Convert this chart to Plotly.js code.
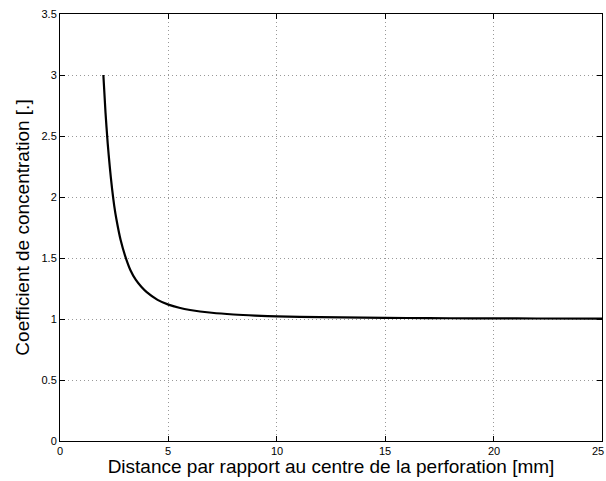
<!DOCTYPE html>
<html>
<head>
<meta charset="utf-8">
<script src="https://cdn.plot.ly/plotly-3.0.1.min.js"></script>
<style>html,body{margin:0;padding:0;background:#fff;overflow:hidden;}#chart{width:606px;height:481px;}</style>
</head>
<body>
<div id="chart"></div>
<script>
// Distance from hole centre [mm]
const distance = [2, 2.1, 2.2, 2.3, 2.4, 2.5, 2.6, 2.8, 3, 3.25, 3.5, 3.75, 4, 4.5, 5, 5.5, 6, 7, 8, 9, 10, 12, 14, 16, 18, 20, 22, 25];
// Stress concentration coefficient [.]
const coefficient = [3.0, 2.69, 2.44, 2.24, 2.07, 1.93, 1.82, 1.645, 1.52, 1.40, 1.32, 1.264, 1.22, 1.157, 1.118, 1.092, 1.074, 1.051, 1.037, 1.028, 1.022, 1.015, 1.011, 1.008, 1.006, 1.005, 1.004, 1.003];
const xTicks = [0, 5, 10, 15, 20, 25];
const xTickText = ['0', '5', '10', '15', '20', '25'];
const yTicks = [0, 0.5, 1, 1.5, 2, 2.5, 3, 3.5];
const yTickText = ['0', '0.5', '1', '1.5', '2', '2.5', '3', '3.5'];
const xTitle = 'Distance par rapport au centre de la perforation [mm]';
const yTitle = 'Coefficient de concentration [.]';

const font = 'Liberation Sans, Arial, Helvetica, sans-serif';
const trace = {
  x: distance, y: coefficient, type: 'scatter', mode: 'lines',
  line: {color: '#000', width: 2.2, shape: 'spline', smoothing: 0.8},
  hoverinfo: 'skip'
};
const axisCommon = {
  showline: true, linecolor: '#000', linewidth: 1, mirror: 'ticks',
  ticks: 'inside', ticklen: 5, tickcolor: '#000', tickwidth: 1,
  showgrid: true, gridcolor: '#999', gridwidth: 1, griddash: '1px,3px',
  zeroline: false, tickfont: {family: font, size: 11, color: '#000'}
};
// x tick labels as annotations; the last one is kept inside the page edge
const xLabelAnn = xTicks.map((v, i) => {
  const last = i === xTicks.length - 1;
  return {
    xref: 'x', yref: 'paper', x: v, y: 0, yanchor: 'top',
    xanchor: last ? 'right' : 'center', xshift: last ? 4 : 0,
    yshift: -2, text: xTickText[i], showarrow: false,
    font: {family: font, size: 11, color: '#000'}
  };
});
const layout = {
  width: 606, height: 481,
  margin: {l: 60, r: 4, t: 14, b: 40},
  paper_bgcolor: '#fff', plot_bgcolor: '#fff',
  showlegend: false,
  annotations: xLabelAnn,
  xaxis: Object.assign({}, axisCommon, {
    range: [0, 25], tickmode: 'array', tickvals: xTicks, showticklabels: false,
    title: {text: xTitle, font: {family: font, size: 19, color: '#000'}, standoff: 18}
  }),
  yaxis: Object.assign({}, axisCommon, {
    range: [0, 3.5], tickmode: 'array', tickvals: yTicks, ticktext: yTickText,
    title: {text: yTitle, font: {family: font, size: 19, color: '#000'}, standoff: 6}
  })
};
Plotly.newPlot('chart', [trace], layout, {staticPlot: true, displayModeBar: false});
</script>
</body>
</html>
